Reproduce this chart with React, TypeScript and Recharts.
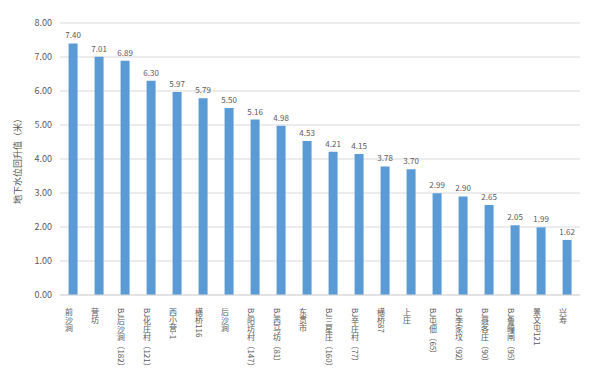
import { BarChart, Bar, XAxis, YAxis, CartesianGrid, LabelList } from 'recharts';

const SITES = [
  '前沙涧', '营坊', 'BJ后沙涧（182）', 'BJ化庄村（121）', '西小营-1', '横桥116', '后沙涧',
  'BJ阳坊村（147）', 'BJ西马坊（81）', '东贯市', 'BJ三星庄（160）', 'BJ辛庄村（77）', '横桥87',
  '上庄', 'BJ屯佃（65）', 'BJ李家坟（92）', 'BJ聂各庄（90）', 'BJ鲁疃闸（95）', '景文屯121', '兴寿',
];
const RISE = [7.4, 7.01, 6.89, 6.3, 5.97, 5.79, 5.5, 5.16, 4.98, 4.53, 4.21, 4.15, 3.78, 3.7, 2.99, 2.9, 2.65, 2.05, 1.99, 1.62];
const Y_TICKS = [0, 1, 2, 3, 4, 5, 6, 7, 8];

const data = SITES.map((site, i) => ({ site, rise: RISE[i] }));

const FONT = '"Noto Sans CJK SC", "Noto Sans", sans-serif';
const TEXT = '#595959';

const VerticalTick = ({ x, y, payload }: any) => (
  <text
    x={x - 4}
    y={y + 5}
    fill={TEXT}
    fontSize={8}
    fontFamily={FONT}
    style={{ writingMode: 'vertical-rl' }}
    textAnchor="start"
  >
    {payload.value}
  </text>
);

export default function App() {
  return (
    <div style={{ position: 'fixed', left: 0, top: 0, width: 600, height: 369, background: '#fff' }}>
      <BarChart
        width={600}
        height={369}
        data={data}
        margin={{ top: 23, right: 20, bottom: 0, left: 0 }}
        barCategoryGap="33%"
      >
        <CartesianGrid vertical={false} stroke="#d9d9d9" />
        <XAxis
          dataKey="site"
          interval={0}
          height={74}
          tickLine={false}
          axisLine={{ stroke: '#d9d9d9' }}
          tick={<VerticalTick />}
        />
        <YAxis
          width={60}
          domain={[0, 8]}
          ticks={Y_TICKS}
          tickFormatter={(v) => v.toFixed(2)}
          tickLine={false}
          axisLine={false}
          tick={{ fill: TEXT, fontSize: 9, fontFamily: FONT }}
          label={{
            value: '地下水位回升值（米）',
            angle: -90,
            position: 'insideLeft',
            offset: 18,
            style: { fill: TEXT, fontSize: 9, fontFamily: FONT, textAnchor: 'middle' },
          }}
        />
        <Bar dataKey="rise" fill="#5b9bd5" isAnimationActive={false}>
          <LabelList
            dataKey="rise"
            position="top"
            offset={5}
            formatter={(v: any) => Number(v).toFixed(2)}
            style={{ fill: TEXT, fontSize: 8, fontFamily: FONT }}
          />
        </Bar>
      </BarChart>
    </div>
  );
}
